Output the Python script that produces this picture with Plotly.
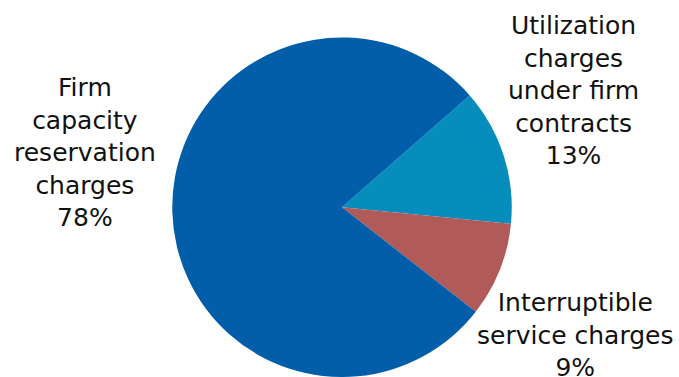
import plotly.graph_objects as go

labels = ["Utilization charges under firm contracts", "Interruptible service charges", "Firm capacity reservation charges"]
label_lines = [["Utilization", "charges", "under firm", "contracts"],
               ["Interruptible", "service charges"],
               ["Firm", "capacity", "reservation", "charges"]]
values = [13, 9, 78]
colors = ["#078DBC", "#B05A5A", "#025EA8"]

W, H = 679, 377
fig = go.Figure(go.Pie(
    labels=labels, values=values, sort=False, direction="clockwise", rotation=48.8,
    marker=dict(colors=colors, line=dict(width=0)),
    textinfo="none", hoverinfo="label+percent", showlegend=False,
    domain=dict(x=[172 / W, 512 / W], y=[0, 339.5 / H]),
))

# label block centres (pixels)
pos = [(573, 90), (575, 335), (85, 152)]
total = sum(values)
for lines, v, (px, py) in zip(label_lines, values, pos):
    text = "<br>".join(lines + [f"{round(100 * v / total)}%"])
    fig.add_annotation(x=px / W, y=1 - py / H, xref="paper", yref="paper",
                       text=text, showarrow=False, xanchor="center", yanchor="middle",
                       align="center", font=dict(family="DejaVu Sans", size=25, color="#111111"))

fig.update_layout(width=W, height=H, margin=dict(l=0, r=0, t=0, b=0),
                  paper_bgcolor="white", plot_bgcolor="white")
fig.write_html("out.html")
